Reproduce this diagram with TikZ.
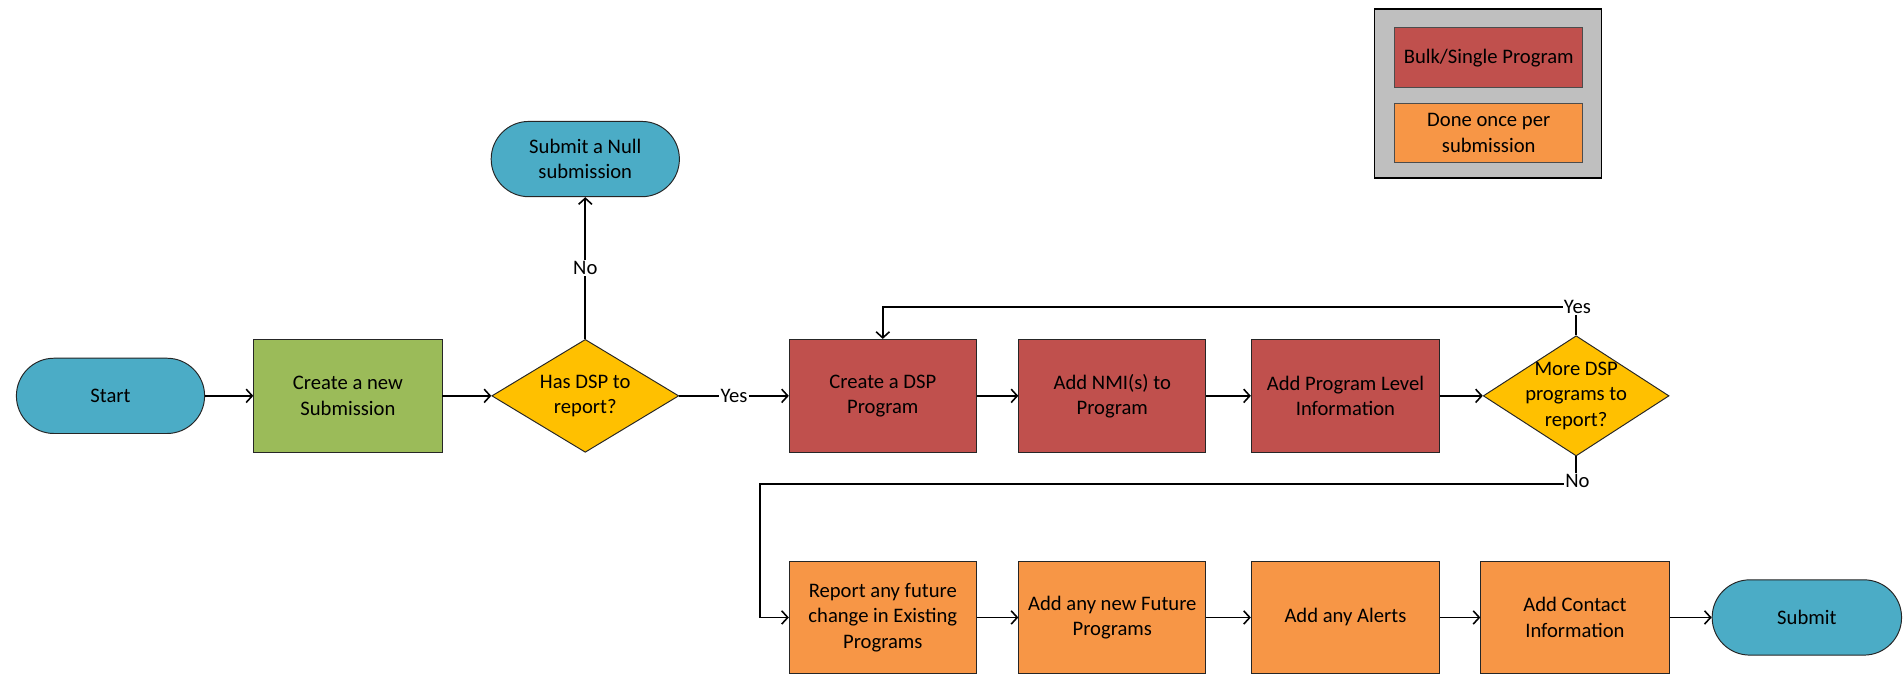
\documentclass[tikz,border=0pt]{standalone}
\usepackage{fontspec}
\setmainfont{Carlito}
\usetikzlibrary{shapes.geometric,arrows.meta}
\definecolor{termc}{HTML}{4BACC6}
\definecolor{greenc}{HTML}{9BBB59}
\definecolor{decc}{HTML}{FFC000}
\definecolor{redc}{HTML}{C0504D}
\definecolor{orangec}{HTML}{F79646}
\definecolor{grayc}{HTML}{BFBFBF}
\begin{document}
\begin{tikzpicture}[x=1pt,y=-1pt,
  txt/.style={font=\fontsize{17}{20.8}\selectfont, align=center, text=black},
  base/.style={txt, draw=black!85, line width=0.8pt, inner sep=2pt},
  term/.style={base, fill=termc, rectangle, rounded corners=31pt, minimum width=155pt, minimum height=62pt},
  proc/.style={base, rectangle, minimum width=154pt, minimum height=93pt},
  dec/.style={base, diamond, fill=decc, inner sep=0pt, minimum width=154pt, minimum height=93pt},
  legbox/.style={base, draw=black!70, rectangle, minimum width=155pt, minimum height=49pt},
  arr/.style={line width=1.5pt, -{Straight Barb[length=5pt,width=11pt,line width=1.3pt]}},
  ln/.style={line width=1.5pt},
  lbl/.style={txt, fill=white, inner sep=1pt}
]
\useasboundingbox (0,0) rectangle (1568,556);

% legend
\node[draw=black, line width=1.3pt, fill=grayc, minimum width=187pt, minimum height=139pt, inner sep=0pt] (leg) at (1225.5,77) {};
\node[legbox, fill=redc] (lred) at (1226,47.5) {Bulk/Single Program};
\node[legbox, fill=orangec] (lor) at (1226,109.5) {Done once per\\submission};

% top row
\node[term] (start) at (91,326) {Start};
\node[proc, fill=greenc, minimum width=155pt] (create) at (286.5,326) {Create a new\\Submission};
\node[dec] (d1) at (482,326) {};
\node[txt] (d1t) at (482,326) {Has DSP to\\report?};
\node[term] (null) at (482,131) {Submit a Null\\submission};
\node[proc, fill=redc] (cdsp) at (727,326) {Create a DSP\\Program};
\node[proc, fill=redc] (nmi) at (916,326) {Add NMI(s) to\\Program};
\node[proc, fill=redc, minimum width=155pt] (pl) at (1108,326) {Add Program Level\\Information};
\node[dec, minimum width=153pt, minimum height=99pt] (d2) at (1298,326) {};
\node[txt] (d2t) at (1298,326) {More DSP\\programs to\\report?};

% bottom row
\node[proc, fill=orangec] (rep) at (727,508.5) {Report any future\\change in Existing\\Programs};
\node[proc, fill=orangec] (anf) at (916,508.5) {Add any new Future\\Programs};
\node[proc, fill=orangec, minimum width=155pt] (alerts) at (1108,508.5) {Add any Alerts};
\node[proc, fill=orangec, minimum width=155pt] (contact) at (1297,508.5) {Add Contact\\Information};
\node[term, minimum width=156pt] (submit) at (1488,508.5) {Submit};

% connectors
\draw[arr] (start) -- (create);
\draw[arr] (create) -- (d1);
\draw[arr] (d1) -- node[lbl, midway] {No} (null);
\draw[arr] (d1) -- node[lbl, midway] {Yes} (cdsp);
\draw[arr] (cdsp) -- (nmi);
\draw[arr] (nmi) -- (pl);
\draw[arr] (pl) -- (d2);

\coordinate (yc) at (1298,253);
\draw[arr] (d2.north) -- (yc) -| (cdsp.north);
\node[lbl] (yeslbl) at (1299,253) {Yes};

\coordinate (nc) at (1298,398.5);
\coordinate (nl) at (626,398.5);
\draw[arr] (d2.south) -- (nc) -- (nl) |- (rep.west);
\node[lbl] (nolbl) at (1299,396) {No};

\draw[arr] (rep) -- (anf);
\draw[arr] (anf) -- (alerts);
\draw[arr] (alerts) -- (contact);
\draw[arr] (contact) -- (submit);
\end{tikzpicture}
\end{document}
